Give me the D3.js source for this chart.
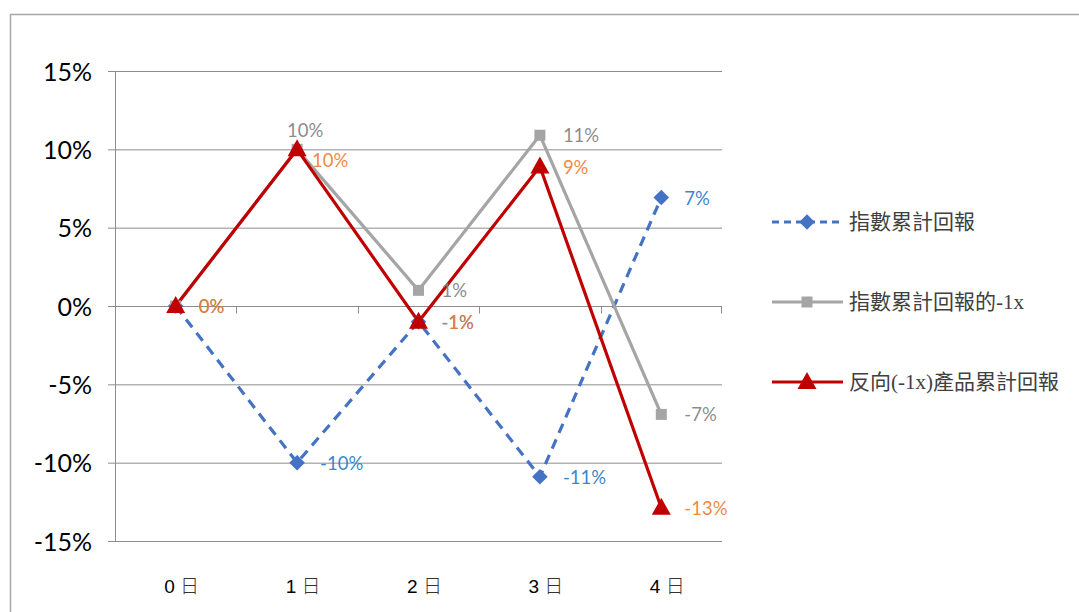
<!DOCTYPE html>
<html><head><meta charset="utf-8">
<script src="https://cdn.jsdelivr.net/npm/d3@7"></script>
<style>body{margin:0;background:#fff}svg{display:block}</style>
</head><body>
<svg id="c" width="1079" height="612"></svg>
<script>
const categories = ["0日","1日","2日","3日","4日"];
const seriesNames = ["指數累計回報","指數累計回報的-1x","反向(-1x)產品累計回報"];
const indexReturn = [0, -0.10, -0.01, -0.109, 0.0692];
const negIndexReturn = [0, 0.10, 0.01, 0.109, -0.0692];
const inverseProduct = [0, 0.10, -0.01, 0.089, -0.1288];
const yTicks = [-0.15, -0.10, -0.05, 0, 0.05, 0.10, 0.15];

const svg = d3.select("#c");
const W = 1079, H = 612;
const plot = {left:115, right:722, top:71, bottom:541};
const x = d3.scaleBand().domain(categories).range([plot.left, plot.right]);
const y = d3.scaleLinear().domain([-0.15, 0.15]).range([plot.bottom, plot.top]);
const cx = c => x(c) + x.bandwidth()/2;
const fmt = v => d3.format(".0%")(v).replace("\u2212","-");
const numFont = "Lato, 'Open Sans', 'Liberation Sans', sans-serif";

// frame
svg.append("rect").attr("x",10.5).attr("y",14.5).attr("width",W+20).attr("height",H+20)
  .attr("fill","none").attr("stroke","#a6a6a6").attr("stroke-width",1.5);

// gridlines via axis
const yAxis = d3.axisLeft(y).tickValues(yTicks).tickSize(-(plot.right-plot.left)).tickFormat(fmt).tickPadding(23);
const gy = svg.append("g").attr("transform",`translate(${plot.left},0)`).call(yAxis);
gy.select(".domain").remove();
gy.selectAll(".tick line").attr("stroke","#8c8c8c").attr("stroke-width",1).attr("x2",plot.right-plot.left).attr("x1",-7);
gy.selectAll(".tick text").attr("font-family",numFont).attr("font-size",25).attr("fill","#000").attr("dy","0.36em");
// y axis vertical line
svg.append("line").attr("x1",plot.left+0.5).attr("x2",plot.left+0.5).attr("y1",plot.top).attr("y2",plot.bottom)
  .attr("stroke","#8c8c8c");

// x axis at zero with tick marks between categories
const gx = svg.append("g").attr("transform",`translate(0,${Math.round(y(0))+0.5})`);
gx.append("line").attr("x1",plot.left).attr("x2",plot.right).attr("stroke","#8c8c8c");
gx.selectAll("line.tk").data(categories).enter().append("line").attr("class","tk")
  .attr("x1",d=>Math.round(x(d))+0.5).attr("x2",d=>Math.round(x(d))+0.5).attr("y1",0).attr("y2",7)
  .attr("stroke","#8c8c8c");
gx.append("line").attr("x1",plot.right-0.5).attr("x2",plot.right-0.5).attr("y1",0).attr("y2",7).attr("stroke","#8c8c8c");
// category labels at bottom
svg.append("g").selectAll("text").data(categories).enter().append("text")
  .attr("x",d=>cx(d)+6).attr("y",593).attr("text-anchor","middle")
  .attr("font-family","'Liberation Sans', 'Noto Sans CJK TC', sans-serif").attr("font-size",19).attr("fill","#000")
  .each(function(d){
    const t=d3.select(this);
    t.append("tspan").text(d.slice(0,-1)+" ");
    t.append("tspan").attr("font-family","'Noto Sans CJK TC'").attr("font-weight",300).attr("fill","#333").text(d.slice(-1));
  });

const series = [
  {name:seriesNames[0], values:indexReturn, color:"#4472C4", dash:"10,7", marker:"diamond", label:"#1F7BC8", pos:["right","right","right","right","right"]},
  {name:seriesNames[1], values:negIndexReturn, color:"#A5A5A5", dash:null, marker:"square", label:"#7F7F7F", pos:["right","above","right","right","right"]},
  {name:seriesNames[2], values:inverseProduct, color:"#C00000", dash:null, marker:"triangle", label:"#ED7D31", pos:["right","rightlow","right","right","right"]}
];
const line = d3.line().x((d,i)=>cx(categories[i])).y(d=>y(d));
function drawMarker(g, type, color, px, py){
  if(type==="diamond") g.append("rect").attr("x",-5.5).attr("y",-5.5).attr("width",11).attr("height",11)
      .attr("transform",`translate(${px},${py}) rotate(45)`).attr("fill",color);
  else if(type==="square") g.append("rect").attr("x",px-5.5).attr("y",py-5.5).attr("width",11).attr("height",11).attr("fill",color);
  else g.append("path").attr("d",`M${px},${py-10}L${px+9.5},${py+7}L${px-9.5},${py+7}Z`).attr("fill",color);
}
series.forEach(s=>{
  svg.append("path").datum(s.values).attr("d",line).attr("fill","none").attr("stroke",s.color)
    .attr("stroke-width",3.2).attr("stroke-dasharray",s.dash).attr("stroke-linejoin","round");
});
series.forEach(s=>{
  const g = svg.append("g");
  s.values.forEach((v,i)=>drawMarker(g, s.marker, s.color, cx(categories[i]), y(v)));
});
series.forEach(s=>{
  const g = svg.append("g");
  s.values.forEach((v,i)=>{
    const px = cx(categories[i]), py = y(v);
    let tx = px+23, ty = py+7, anchor="start";
    if(s.pos[i]==="above"){tx=px+8; ty=py-12; anchor="middle";}
    if(s.pos[i]==="rightlow"){tx=px+15; ty=py+18;}
    if(i===0 && s.marker==="diamond") return;
    g.append("text").attr("x",tx).attr("y",ty).attr("text-anchor",anchor)
      .attr("font-family",numFont).attr("font-size",18.5).attr("fill",s.label).attr("fill-opacity",0.92).text(fmt(v));
  });
});

// legend
const lg = svg.append("g");
series.forEach((s,i)=>{
  const ly = 222 + i*80;
  lg.append("line").attr("x1",772).attr("x2",843).attr("y1",ly).attr("y2",ly)
    .attr("stroke",s.color).attr("stroke-width",3.2).attr("stroke-dasharray",s.dash?"7,5":null);
  drawMarker(lg, s.marker, s.color, 807, ly);
  lg.append("text").attr("x",849).attr("y",ly+7).attr("font-family","'Liberation Serif', 'Noto Sans CJK TC', serif")
    .attr("font-size",21).attr("fill","#404040").text(s.name);
});
</script>
</body></html>
